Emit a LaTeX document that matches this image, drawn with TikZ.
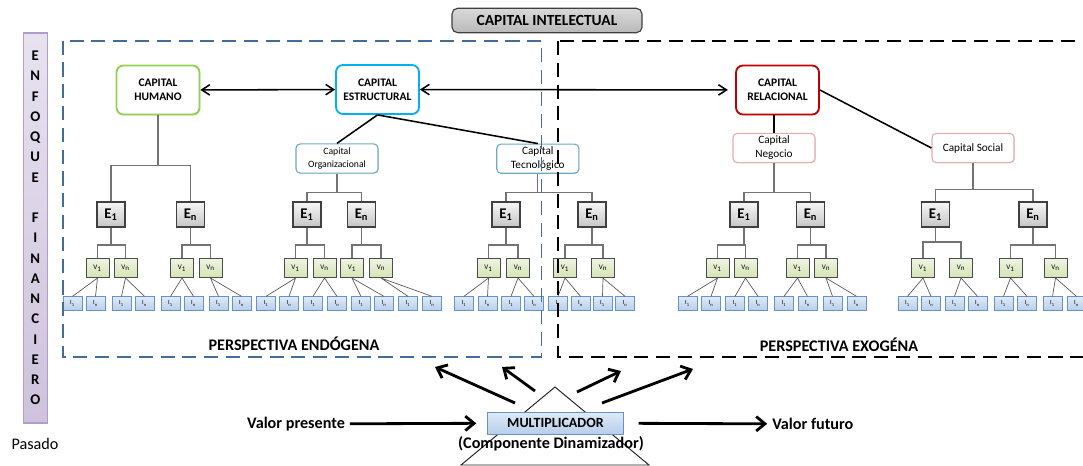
\documentclass[tikz,border=0pt]{standalone}
\usepackage{fontspec}
\setmainfont{Carlito}
\usetikzlibrary{arrows.meta,shadows}
\definecolor{verdeH}{RGB}{146,208,80}
\definecolor{azulE}{RGB}{0,176,240}
\definecolor{rojoR}{RGB}{192,0,0}
\definecolor{tealC}{RGB}{110,170,195}
\definecolor{rosaC}{RGB}{228,172,172}
\definecolor{azulD}{RGB}{68,108,152}
\definecolor{lilaF}{RGB}{232,226,240}
\definecolor{lilaB}{RGB}{206,194,220}
\definecolor{lilaL}{RGB}{176,158,200}
\definecolor{azulI}{RGB}{222,234,247}
\definecolor{azulIb}{RGB}{184,206,234}
\definecolor{bordeI}{RGB}{102,146,204}
\definecolor{verdeV}{RGB}{238,244,226}
\definecolor{verdeVb}{RGB}{212,228,180}
\tikzset{capital/.style={draw,rounded corners=5pt,line width=1.3pt,fill=white,minimum width=2.075cm,minimum height=1.225cm,align=center,inner sep=0pt,
		font=\bfseries\fontsize{8.2}{10}\selectfont,drop shadow={opacity=0.25,shadow xshift=0.7pt,shadow yshift=-0.7pt}},
	sub/.style={draw,rounded corners=3pt,line width=0.8pt,fill=white,minimum width=2.05cm,minimum height=0.73cm,align=center,inner sep=0pt,
		drop shadow={opacity=0.2,shadow xshift=0.6pt,shadow yshift=-0.6pt}},
	titulo/.style={draw=black!75,rounded corners=4pt,line width=0.8pt,top color=gray!30,bottom color=gray!55,minimum width=4.75cm,minimum height=0.61cm,
		inner sep=0pt,font=\bfseries\fontsize{11}{12}\selectfont},
	barra/.style={draw=lilaL,line width=0.8pt,top color=lilaF,bottom color=lilaB,minimum width=0.6cm,minimum height=9.75cm,align=center,inner sep=0pt,
		font=\bfseries\fontsize{10.5}{14.4}\selectfont},
	ebox/.style={draw=black!75,line width=0.8pt,top color=gray!6,bottom color=gray!45,minimum width=0.7cm,minimum height=0.625cm,inner sep=0pt,
		font=\bfseries\fontsize{10.5}{12}\selectfont,drop shadow={opacity=0.2,shadow xshift=0.6pt,shadow yshift=-0.6pt}},
	vbox/.style={draw=black!70,line width=0.6pt,top color=verdeV,bottom color=verdeVb,minimum width=0.575cm,minimum height=0.48cm,inner sep=0pt,
		font=\fontsize{5}{6}\selectfont},
	ibox/.style={draw=bordeI,line width=0.5pt,top color=azulI,bottom color=azulIb,minimum width=0.475cm,minimum height=0.34cm,inner sep=0pt,
		font=\fontsize{4.5}{5}\selectfont},
	mult/.style={draw=bordeI,line width=0.7pt,top color=azulI,bottom color=azulIb,minimum width=3.375cm,minimum height=0.55cm,inner sep=0pt,
		font=\bfseries\fontsize{10}{12}\selectfont},
	rotulo/.style={inner sep=0pt,font=\bfseries\fontsize{11.5}{13}\selectfont},
	tree/.style={draw=black!55,line width=0.75pt},
	hoja/.style={draw=black!65,line width=0.5pt},
	enlace/.style={draw=black,line width=1.1pt},
	flecha/.style={draw=black,line width=1.1pt,{Straight Barb[length=2mm,width=2.6mm]}-{Straight Barb[length=2mm,width=2.6mm]}},
	gruesa/.style={draw=black,line width=2pt,-{Straight Barb[length=2.2mm,width=3.6mm]}},
	endo/.style={draw=azulD,line width=1.4pt,dash pattern=on 10pt off 5.5pt},
	exo/.style={draw=black,line width=1.5pt,dash pattern=on 10pt off 5.5pt}}
\begin{document}
\begin{tikzpicture}[x=0.025cm,y=-0.025cm]
	\useasboundingbox (0,0) rectangle (1083,466);

	\node[titulo] (ci) at (547,20.5) {CAPITAL INTELECTUAL};
	\node[barra] (ef) at (35.3,228) {E\\N\\F\\O\\Q\\U\\E\\[14.4pt]F\\I\\N\\A\\N\\C\\I\\E\\R\\O};
	\node[inner sep=0pt,font=\fontsize{11.5}{13}\selectfont] (pas) at (35,444) {Pasado};

	\node[capital,draw=verdeH] (hum) at (158,90) {CAPITAL\\HUMANO};
	\node[capital,draw=azulE] (est) at (377.5,89.5) {CAPITAL\\ESTRUCTURAL};
	\node[capital,draw=rojoR] (rel) at (777.5,90) {CAPITAL\\RELACIONAL};
	\node[sub,draw=tealC,font=\fontsize{6.9}{9}\selectfont] (org) at (337,158.5) {Capital\\Organizacional};
	\node[sub,draw=tealC,font=\fontsize{8}{10}\selectfont] (tec) at (537.8,158.7) {Capital\\Tecnológico};
	\node[sub,draw=rosaC,font=\fontsize{8}{10}\selectfont] (neg) at (774,148) {Capital\\Negocio};
	\node[sub,draw=rosaC,font=\fontsize{8}{10}\selectfont] (soc) at (973,148) {Capital Social};

	\path [flecha](hum) edge (est);
	\path [flecha,shorten >=0.18cm](est) edge (rel);
	\draw[enlace] (est.south) -- (org.north);
	\draw[enlace] (est.south) -- (tec.north);
	\draw[enlace] (rel.south -| neg.north) -- (neg.north);
	\draw[enlace] (rel.east) -- (soc.west);

	\node[ebox] (he1) at (111,214.5) {E\textsubscript{1}};
	\node[ebox] (hen) at (190.5,214.5) {E\textsubscript{n}};
	\node[ebox] (oe1) at (307,214.5) {E\textsubscript{1}};
	\node[ebox] (oen) at (361.5,214.5) {E\textsubscript{n}};
	\node[ebox] (te1) at (506,214.5) {E\textsubscript{1}};
	\node[ebox] (ten) at (592,214.5) {E\textsubscript{n}};
	\node[ebox] (ne1) at (744,214.5) {E\textsubscript{1}};
	\node[ebox] (nen) at (810.5,214.5) {E\textsubscript{n}};
	\node[ebox] (se1) at (935.5,214.5) {E\textsubscript{1}};
	\node[ebox] (sen) at (1033,214.5) {E\textsubscript{n}};

	\draw[tree] (hum.south) -- ++(0,50) coordinate (hs) (he1.north) |- (hs) -| (hen.north);
	\draw[tree] (org.south) -- ++(0,19) coordinate (os) (oe1.north) |- (os) -| (oen.north);
	\draw[tree] (tec.south) -- ++(0,19) coordinate (ts) (te1.north) |- (ts) -| (ten.north);
	\draw[tree] (neg.south) -- ++(0,29) coordinate (ns) (ne1.north) |- (ns) -| (nen.north);
	\draw[tree] (soc.south) -- ++(0,26) coordinate (ss) (se1.north) |- (ss) -| (sen.north);

	\node[vbox] (hv1) at (97.5,268) {V\textsubscript{1}};
	\node[vbox] (hv2) at (125.5,268) {V\textsubscript{n}};
	\node[vbox] (hv3) at (182,268) {V\textsubscript{1}};
	\node[vbox] (hv4) at (210.5,268) {V\textsubscript{n}};
	\node[vbox] (ov1) at (295.5,268) {V\textsubscript{1}};
	\node[vbox] (ov2) at (324.5,268) {V\textsubscript{n}};
	\node[vbox] (ov3) at (352,268) {V\textsubscript{1}};
	\node[vbox] (ov4) at (381,268) {V\textsubscript{n}};
	\node[vbox] (tv1) at (488.5,268) {V\textsubscript{1}};
	\node[vbox] (tv2) at (518,268) {V\textsubscript{n}};
	\node[vbox] (tv3) at (565,268) {V\textsubscript{1}};
	\node[vbox] (tv4) at (603,268) {V\textsubscript{n}};
	\node[vbox] (nv1) at (717.5,268) {V\textsubscript{1}};
	\node[vbox] (nv2) at (745.5,268) {V\textsubscript{n}};
	\node[vbox] (nv3) at (797.5,268) {V\textsubscript{1}};
	\node[vbox] (nv4) at (826,268) {V\textsubscript{n}};
	\node[vbox] (sv1) at (923,268) {V\textsubscript{1}};
	\node[vbox] (sv2) at (961,268) {V\textsubscript{n}};
	\node[vbox] (sv3) at (1010.5,268) {V\textsubscript{1}};
	\node[vbox] (sv4) at (1055.5,268) {V\textsubscript{n}};

	\draw[tree] (he1.south) -- ++(0,18) (hv1.north) -- ++(0,-13) -| (hv2.north);
	\draw[tree] (hen.south) -- ++(0,18) (hv3.north) -- ++(0,-13) -| (hv4.north);
	\draw[tree] (oe1.south) -- ++(0,18) (ov1.north) -- ++(0,-13) -| (ov2.north);
	\draw[tree] (oen.south) -- ++(0,18) (ov3.north) -- ++(0,-13) -| (ov4.north);
	\draw[tree] (te1.south) -- ++(0,18) (tv1.north) -- ++(0,-13) -| (tv2.north);
	\draw[tree] (ten.south) -- ++(0,18) (tv3.north) -- ++(0,-13) -| (tv4.north);
	\draw[tree] (ne1.south) -- ++(0,18) (nv1.north) -- ++(0,-13) -| (nv2.north);
	\draw[tree] (nen.south) -- ++(0,18) (nv3.north) -- ++(0,-13) -| (nv4.north);
	\draw[tree] (se1.south) -- ++(0,15) (sv1.north) -- ++(0,-16) -| (sv2.north);
	\draw[tree] (sen.south) -- ++(0,18) (sv3.north) -- ++(0,-13) -| (sv4.north);

	\node[ibox] (hi1) at (72.5,303.5) {I\textsubscript{1}};
	\node[ibox] (hi2) at (95.5,303.5) {I\textsubscript{n}};
	\node[ibox] (hi3) at (121.5,303.5) {I\textsubscript{1}};
	\node[ibox] (hi4) at (144.5,303.5) {I\textsubscript{n}};
	\node[ibox] (hi5) at (170.5,303.5) {I\textsubscript{1}};
	\node[ibox] (hi6) at (193.5,303.5) {I\textsubscript{n}};
	\node[ibox] (hi7) at (218.5,303.5) {I\textsubscript{1}};
	\node[ibox] (hi8) at (241.5,303.5) {I\textsubscript{n}};
	\node[ibox] (oi1) at (266,303.5) {I\textsubscript{1}};
	\node[ibox] (oi2) at (289,303.5) {I\textsubscript{n}};
	\node[ibox] (oi3) at (313,303.5) {I\textsubscript{1}};
	\node[ibox] (oi4) at (337,303.5) {I\textsubscript{n}};
	\node[ibox] (oi5) at (361,303.5) {I\textsubscript{1}};
	\node[ibox] (oi6) at (384,303.5) {I\textsubscript{n}};
	\node[ibox] (oi7) at (408,303.5) {I\textsubscript{1}};
	\node[ibox] (oi8) at (432,303.5) {I\textsubscript{n}};
	\node[ibox] (ti1) at (464,303.5) {I\textsubscript{1}};
	\node[ibox] (ti2) at (487.5,303.5) {I\textsubscript{n}};
	\node[ibox] (ti3) at (511,303.5) {I\textsubscript{1}};
	\node[ibox] (ti4) at (534,303.5) {I\textsubscript{n}};
	\node[ibox] (ti5) at (558,303.5) {I\textsubscript{1}};
	\node[ibox] (ti6) at (580.5,303.5) {I\textsubscript{n}};
	\node[ibox] (ti7) at (602.5,303.5) {I\textsubscript{1}};
	\node[ibox] (ti8) at (625,303.5) {I\textsubscript{n}};
	\node[ibox] (ni1) at (687.5,303.5) {I\textsubscript{1}};
	\node[ibox] (ni2) at (711,303.5) {I\textsubscript{n}};
	\node[ibox] (ni3) at (735,303.5) {I\textsubscript{1}};
	\node[ibox] (ni4) at (758,303.5) {I\textsubscript{n}};
	\node[ibox] (ni5) at (784,303.5) {I\textsubscript{1}};
	\node[ibox] (ni6) at (807.5,303.5) {I\textsubscript{n}};
	\node[ibox] (ni7) at (832.5,303.5) {I\textsubscript{1}};
	\node[ibox] (ni8) at (856.5,303.5) {I\textsubscript{n}};
	\node[ibox] (si1) at (907.5,303.5) {I\textsubscript{1}};
	\node[ibox] (si2) at (931,303.5) {I\textsubscript{n}};
	\node[ibox] (si3) at (954.5,303.5) {I\textsubscript{1}};
	\node[ibox] (si4) at (977.5,303.5) {I\textsubscript{n}};
	\node[ibox] (si5) at (1003.5,303.5) {I\textsubscript{1}};
	\node[ibox] (si6) at (1027,303.5) {I\textsubscript{n}};
	\node[ibox] (si7) at (1052.5,303.5) {I\textsubscript{1}};
	\node[ibox] (si8) at (1076.5,303.5) {I\textsubscript{n}};

	\draw[hoja] (hi1.north) -- (hv1.south) -- (hi2.north);
	\draw[hoja] (hi3.north) -- (hv2.south) -- (hi4.north);
	\draw[hoja] (hi5.north) -- (hv3.south) -- (hi6.north);
	\draw[hoja] (hi7.north) -- (hv4.south) -- (hi8.north);
	\draw[hoja] (oi1.north) -- (ov1.south) -- (oi2.north);
	\draw[hoja] (oi3.north) -- (ov2.south) -- (oi4.north);
	\draw[hoja] (oi5.north) -- (ov3.south) -- (oi6.north);
	\draw[hoja] (oi7.north) -- (ov4.south) -- (oi8.north);
	\draw[hoja] (ti1.north) -- (tv1.south) -- (ti2.north);
	\draw[hoja] (ti3.north) -- (tv2.south) -- (ti4.north);
	\draw[hoja] (ti5.north) -- (tv3.south) -- (ti6.north);
	\draw[hoja] (ti7.north) -- (tv4.south) -- (ti8.north);
	\draw[hoja] (ni1.north) -- (nv1.south) -- (ni2.north);
	\draw[hoja] (ni3.north) -- (nv2.south) -- (ni4.north);
	\draw[hoja] (ni5.north) -- (nv3.south) -- (ni6.north);
	\draw[hoja] (ni7.north) -- (nv4.south) -- (ni8.north);
	\draw[hoja] (si1.north) -- (sv1.south) -- (si2.north);
	\draw[hoja] (si3.north) -- (sv2.south) -- (si4.north);
	\draw[hoja] (si5.north) -- (sv3.south) -- (si6.north);
	\draw[hoja] (si7.north) -- (sv4.south) -- (si8.north);

	\draw[endo] (62.7,40.7) rectangle (541.5,357);
	\draw[exo] (558,41) rectangle (1100,357);
	\node[rotulo] (pen) at (294,344) {PERSPECTIVA ENDÓGENA};
	\node[rotulo] (pex) at (839,345) {PERSPECTIVA EXOGÉNA};

	\draw[black!85,line width=0.7pt] (555,387) -- (461,465) -- (649,465) -- cycle;
	\node[mult] (mul) at (555.5,423) {MULTIPLICADOR};
	\node[rotulo] (din) at (551,444) {(Componente Dinamizador)};
	\node[rotulo] (vp) at (296,424) {Valor presente};
	\node[rotulo,anchor=west] (vf) at (772,424) {Valor futuro};
	\draw[gruesa,shorten <=0.12cm,shorten >=0.28cm] (vp) -- (mul);
	\draw[gruesa,shorten <=0.38cm,shorten >=0.12cm] (mul) -- (vf);

	\coordinate (a1) at (515,403);
	\coordinate (b1) at (435,367);
	\coordinate (a2) at (535,391);
	\coordinate (b2) at (502,367);
	\coordinate (a3) at (577,392);
	\coordinate (b3) at (621,371);
	\coordinate (a4) at (602,403);
	\coordinate (b4) at (693,369);
	\draw[gruesa] (a1) -- (b1);
	\draw[gruesa] (a2) -- (b2);
	\draw[gruesa] (a3) -- (b3);
	\draw[gruesa] (a4) -- (b4);
\end{tikzpicture}
\end{document}
